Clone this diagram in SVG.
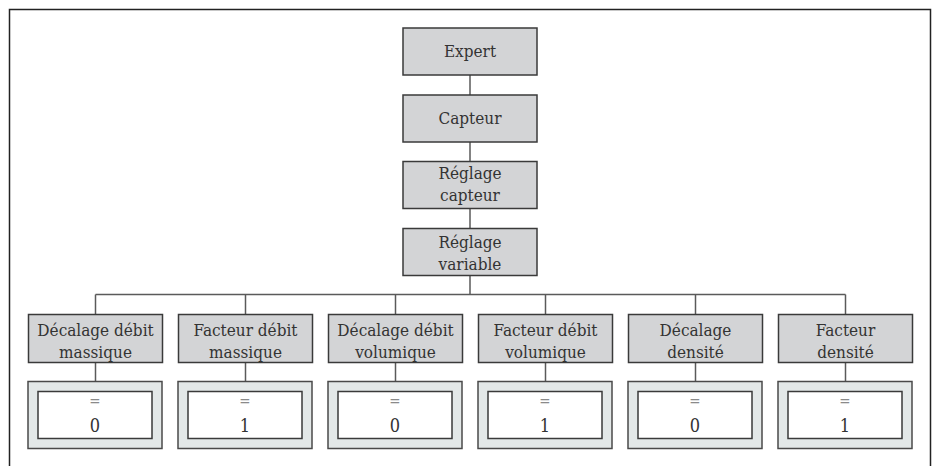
<svg xmlns="http://www.w3.org/2000/svg" width="937" height="466" viewBox="0 0 937 466">
<style>
.frame{fill:#fff;stroke:#222;stroke-width:1.5}
.box{fill:#d3d4d6;stroke:#3a3a3a;stroke-width:1.5}
.val{fill:#e3e8e8;stroke:#4a4a4a;stroke-width:1.5}
.inner{fill:#fff;stroke:#3a3a3a;stroke-width:1.5}
.conn line{stroke:#5a5a5a;stroke-width:1.5}
text{font-family:"DejaVu Serif Condensed","DejaVu Serif",serif;font-stretch:condensed;font-size:17px;fill:#333;text-anchor:middle}
.eq{fill:#8a8a8a;font-size:15px}
.num{font-size:18px}
</style>
<rect class="frame" x="9.5" y="9.5" width="921" height="470"/>
<g class="conn">
<line x1="470" y1="75" x2="470" y2="95"/>
<line x1="470" y1="142" x2="470" y2="162"/>
<line x1="470" y1="208" x2="470" y2="229"/>
<line x1="470" y1="275" x2="470" y2="294.5"/>
<line x1="95.5" y1="294.5" x2="845.5" y2="294.5"/>
<line x1="95.5" y1="294.5" x2="95.5" y2="314.5"/>
<line x1="245.5" y1="294.5" x2="245.5" y2="314.5"/>
<line x1="395.5" y1="294.5" x2="395.5" y2="314.5"/>
<line x1="545.5" y1="294.5" x2="545.5" y2="314.5"/>
<line x1="695.5" y1="294.5" x2="695.5" y2="314.5"/>
<line x1="845.5" y1="294.5" x2="845.5" y2="314.5"/>
<line x1="95.5" y1="362" x2="95.5" y2="382"/>
<line x1="245.5" y1="362" x2="245.5" y2="382"/>
<line x1="395.5" y1="362" x2="395.5" y2="382"/>
<line x1="545.5" y1="362" x2="545.5" y2="382"/>
<line x1="695.5" y1="362" x2="695.5" y2="382"/>
<line x1="845.5" y1="362" x2="845.5" y2="382"/>
</g>
<g id="expert"><rect class="box" x="403" y="28" width="134" height="47"/><text x="470" y="57">Expert</text></g>
<g id="capteur"><rect class="box" x="403" y="95" width="134" height="47"/><text x="470" y="124">Capteur</text></g>
<g id="reglage-capteur"><rect class="box" x="403" y="161.5" width="134" height="47"/><text x="470" y="179">Réglage</text><text x="470" y="201">capteur</text></g>
<g id="reglage-variable"><rect class="box" x="403" y="228.5" width="134" height="47"/><text x="470" y="248">Réglage</text><text x="470" y="270">variable</text></g>

<g id="n1"><rect class="box" x="28.5" y="314.5" width="134" height="48"/><text x="95.5" y="336">Décalage débit</text><text x="95.5" y="357.5">massique</text></g>
<g id="n2"><rect class="box" x="178.5" y="314.5" width="134" height="48"/><text x="245.5" y="336">Facteur débit</text><text x="245.5" y="357.5">massique</text></g>
<g id="n3"><rect class="box" x="328.5" y="314.5" width="134" height="48"/><text x="395.5" y="336">Décalage débit</text><text x="395.5" y="357.5">volumique</text></g>
<g id="n4"><rect class="box" x="478.5" y="314.5" width="134" height="48"/><text x="545.5" y="336">Facteur débit</text><text x="545.5" y="357.5">volumique</text></g>
<g id="n5"><rect class="box" x="628.5" y="314.5" width="134" height="48"/><text x="695.5" y="336">Décalage</text><text x="695.5" y="357.5">densité</text></g>
<g id="n6"><rect class="box" x="778.5" y="314.5" width="134" height="48"/><text x="845.5" y="336">Facteur</text><text x="845.5" y="357.5">densité</text></g>

<g id="v1"><rect class="val" x="28" y="381.5" width="134" height="67"/><rect class="inner" x="38" y="391.5" width="114" height="47"/><text class="eq" x="95" y="406">=</text><text class="num" x="95" y="432">0</text></g>
<g id="v2"><rect class="val" x="178" y="381.5" width="134" height="67"/><rect class="inner" x="188" y="391.5" width="114" height="47"/><text class="eq" x="245" y="406">=</text><text class="num" x="245" y="432">1</text></g>
<g id="v3"><rect class="val" x="328" y="381.5" width="134" height="67"/><rect class="inner" x="338" y="391.5" width="114" height="47"/><text class="eq" x="395" y="406">=</text><text class="num" x="395" y="432">0</text></g>
<g id="v4"><rect class="val" x="478" y="381.5" width="134" height="67"/><rect class="inner" x="488" y="391.5" width="114" height="47"/><text class="eq" x="545" y="406">=</text><text class="num" x="545" y="432">1</text></g>
<g id="v5"><rect class="val" x="628" y="381.5" width="134" height="67"/><rect class="inner" x="638" y="391.5" width="114" height="47"/><text class="eq" x="695" y="406">=</text><text class="num" x="695" y="432">0</text></g>
<g id="v6"><rect class="val" x="778" y="381.5" width="134" height="67"/><rect class="inner" x="788" y="391.5" width="114" height="47"/><text class="eq" x="845" y="406">=</text><text class="num" x="845" y="432">1</text></g>
</svg>
